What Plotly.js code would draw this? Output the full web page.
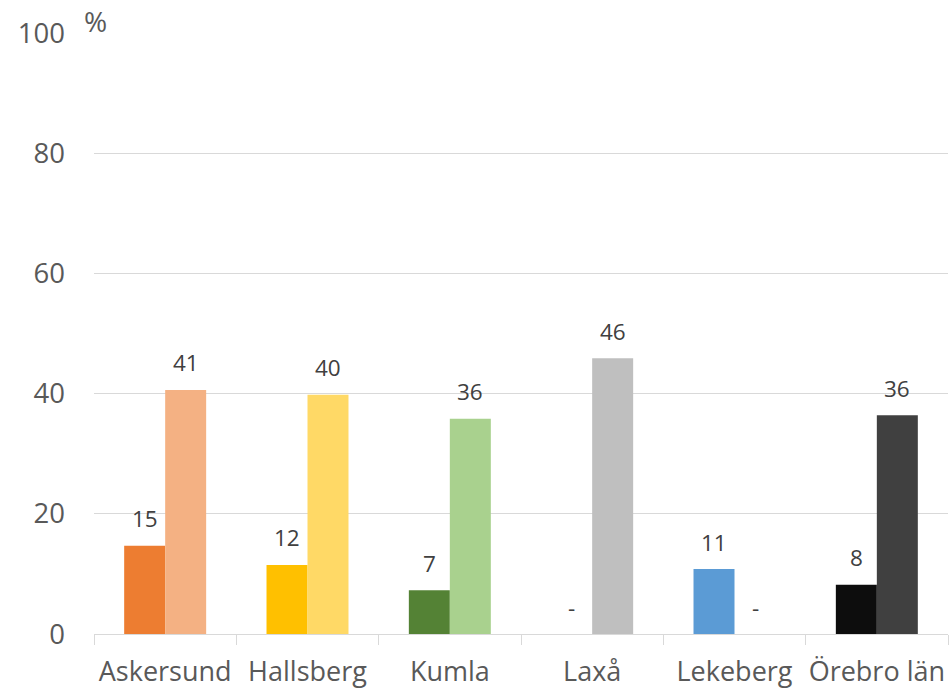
<!DOCTYPE html>
<html>
<head>
<meta charset="utf-8">
<script src="https://cdn.plot.ly/plotly-3.0.1.min.js"></script>
<style>html,body{margin:0;padding:0;background:#fff;}#chart{width:951px;height:692px;}</style>
</head>
<body>
<div id="chart"></div>
<script>
const categories = ["Askersund", "Hallsberg", "Kumla", "Laxå", "Lekeberg", "Örebro län"];
const series1Values = [14.7, 11.5, 7.3, 0, 10.8, 8.2];
const series1Labels = ["15", "12", "7", "-", "11", "8"];
const series2Values = [40.6, 39.8, 35.8, 45.9, 0, 36.4];
const series2Labels = ["41", "40", "36", "46", "-", "36"];
const series1Colors = ["#ED7D31", "#FFC000", "#548235", "#BFBFBF", "#5B9BD5", "#0D0D0D"];
const series2Colors = ["#F4B183", "#FFD966", "#A9D18E", "#BFBFBF", "#5B9BD5", "#404040"];
const yTicks = [0, 20, 40, 60, 80, 100];

const FONT = "Open Sans, Noto Sans, sans-serif";

const traces = [
  {type: "bar", x: categories, y: series1Values, marker: {color: series1Colors}, hoverinfo: "skip"},
  {type: "bar", x: categories, y: series2Values, marker: {color: series2Colors}, hoverinfo: "skip"}
];

const annotations = [];
categories.forEach((c, i) => {
  annotations.push({x: c, y: series1Values[i], xref: "x", yref: "y", text: series1Labels[i],
    showarrow: false, xshift: -20.5, yshift: 27, yanchor: "middle",
    font: {family: FONT, size: 22.5, color: "#404040"}});
  annotations.push({x: c, y: series2Values[i], xref: "x", yref: "y", text: series2Labels[i],
    showarrow: false, xshift: 20.5, yshift: 27, yanchor: "middle",
    font: {family: FONT, size: 22.5, color: "#404040"}});
});
annotations.push({x: 0, y: 1, xref: "paper", yref: "paper", text: "%", showarrow: false,
  xanchor: "left", xshift: -12, yanchor: "middle", yshift: 12,
  font: {family: FONT, size: 28, color: "#595959"}});

const layout = {
  width: 951, height: 692,
  margin: {l: 94, r: 3, t: 33, b: 58},
  paper_bgcolor: "#fff", plot_bgcolor: "#fff",
  barmode: "group", bargap: 0.424, bargroupgap: 0,
  showlegend: false,
  font: {family: FONT, color: "#595959"},
  xaxis: {
    type: "category", tickson: "boundaries", ticks: "outside", ticklen: 10,
    tickcolor: "#D9D9D9", showline: true, linecolor: "#D9D9D9", linewidth: 1,
    showgrid: false, tickangle: 0, tickfont: {family: FONT, size: 27, color: "#595959"},
    ticklabelstandoff: 14, fixedrange: true, automargin: false
  },
  yaxis: {
    range: [0, 100], tickvals: yTicks, ticktext: yTicks.map(String),
    showgrid: true, gridcolor: "#D9D9D9", gridwidth: 1, zeroline: false,
    showline: false, ticks: "", tickfont: {family: FONT, size: 27.5, color: "#595959"},
    ticklabelstandoff: 28, fixedrange: true, automargin: false
  },
  annotations: annotations
};

Plotly.newPlot("chart", traces, layout, {displayModeBar: false, staticPlot: true});
</script>
</body>
</html>
